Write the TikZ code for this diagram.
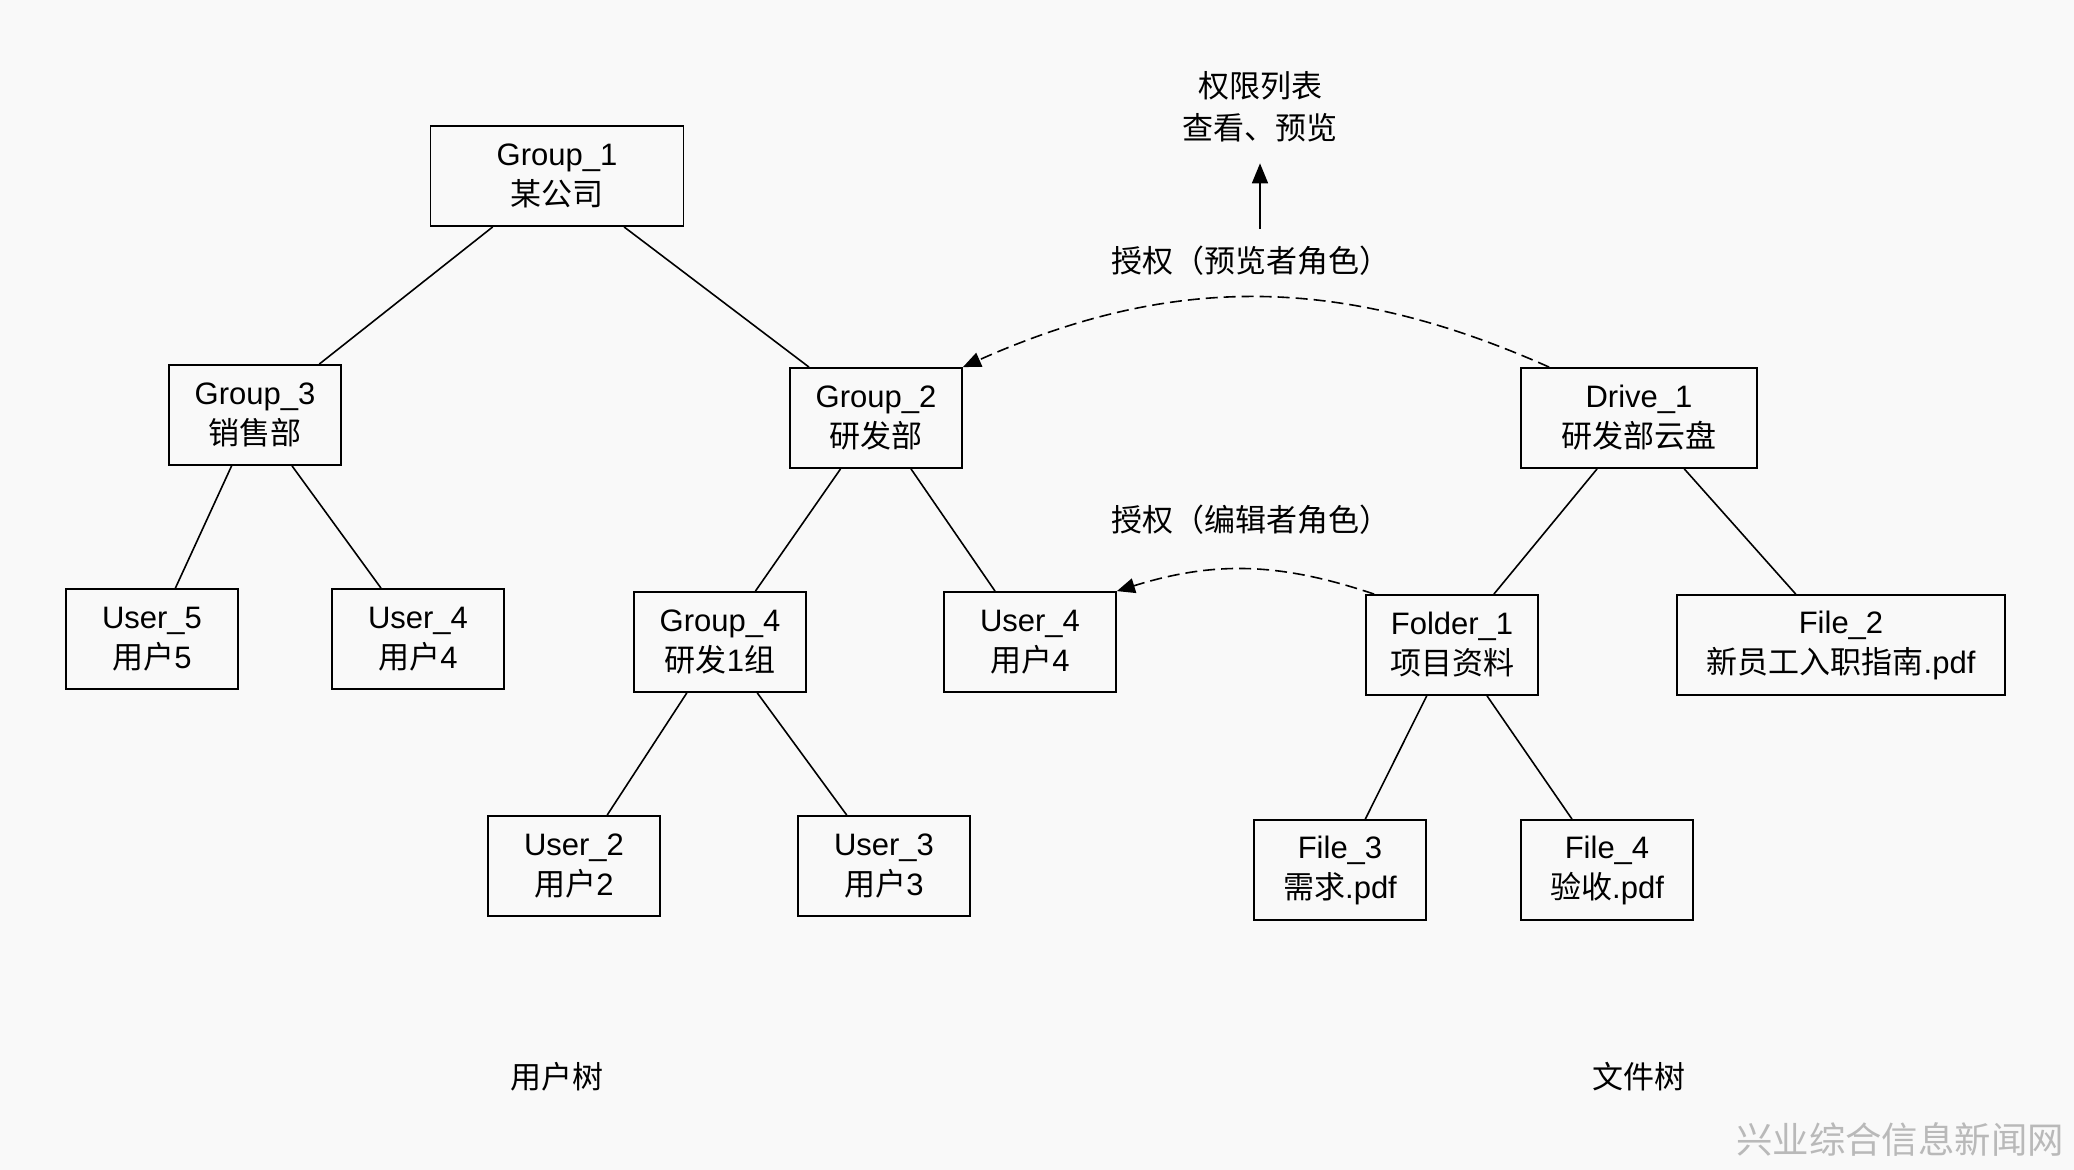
\documentclass[tikz,border=0pt]{standalone}
\usepackage{fontspec}
\setmainfont{Liberation Sans}
\newfontfamily\cjk{Noto Sans CJK SC}
\usetikzlibrary{arrows.meta}

\begin{document}
\begin{tikzpicture}[x=0.5pt, y=-0.5pt,
    box/.style={draw, rectangle, line width=0.9pt, minimum width=86pt, minimum height=50pt, align=center, inner sep=2pt, font=\fontsize{15.5}{20}\selectfont},
    link/.style={line width=0.8pt},
    grant/.style={-{Triangle[length=9pt,width=7.5pt]}, dash pattern=on 6pt off 3pt, line width=0.8pt},
    arrow/.style={-{Triangle[length=10pt,width=8pt]}, line width=0.8pt},
    note/.style={align=center, font=\fontsize{15.5}{21}\selectfont\cjk}
]

% Background and size
\useasboundingbox (0,0) rectangle (2074,1170);
\fill[gray!5] (0,0) rectangle (2074,1170);

% User tree
\node[box, minimum width=126.5pt] (g1) at (557,176) {Group\_1\\{\cjk 某公司}};
\node[box] (g3) at (255,415) {Group\_3\\{\cjk 销售部}};
\node[box] (g2) at (876,418) {Group\_2\\{\cjk 研发部}};
\node[box] (u5) at (152,639) {User\_5\\{\cjk 用户}5};
\node[box] (u4a) at (418,639) {User\_4\\{\cjk 用户}4};
\node[box] (g4) at (720,642) {Group\_4\\{\cjk 研发}1{\cjk 组}};
\node[box] (u4b) at (1030,642) {User\_4\\{\cjk 用户}4};
\node[box] (u2) at (574,866) {User\_2\\{\cjk 用户}2};
\node[box] (u3) at (884,866) {User\_3\\{\cjk 用户}3};

% File tree
\node[box, minimum width=118pt] (d1) at (1639,418) {Drive\_1\\{\cjk 研发部云盘}};
\node[box] (f1) at (1452,645) {Folder\_1\\{\cjk 项目资料}};
\node[box, minimum width=164pt] (file2) at (1841,645) {File\_2\\{\cjk 新员工入职指南}.pdf};
\node[box] (file3) at (1340,870) {File\_3\\{\cjk 需求}.pdf};
\node[box] (file4) at (1607,870) {File\_4\\{\cjk 验收}.pdf};

% Tree edges
\draw[link] (g1) -- (g3);
\draw[link] (g1) -- (g2);
\draw[link] (g3) -- (u5);
\draw[link] (g3) -- (u4a);
\draw[link] (g2) -- (g4);
\draw[link] (g2) -- (u4b);
\draw[link] (g4) -- (u2);
\draw[link] (g4) -- (u3);
\draw[link] (d1) -- (f1);
\draw[link] (d1) -- (file2);
\draw[link] (f1) -- (file3);
\draw[link] (f1) -- (file4);

% Grants
\node[note] (grantview) at (1251,261) {授权（预览者角色）};
\node[note] (grantedit) at (1251,520) {授权（编辑者角色）};
\node[note] (perms) at (1260,107) {权限列表\\查看、预览};
\draw[grant] ([xshift=14.5pt]d1.north west) to[bend right=24] (g2.north east);
\draw[grant] ([xshift=4.5pt]f1.north west) to[bend right=18] (u4b.north east);
\draw[arrow, shorten <=5pt, shorten >=7pt] (grantview.north -| perms.south) -- (perms.south);

% Tree names
\node[note] (usertree) at (557,1077) {用户树};
\node[note] (filetree) at (1639,1077) {文件树};

% Watermark
\node[font=\fontsize{18.2}{20}\selectfont\cjk, text=gray!55, inner sep=0pt] (mark) at (1900,1140) {兴业综合信息新闻网};

\end{tikzpicture}
\end{document}
